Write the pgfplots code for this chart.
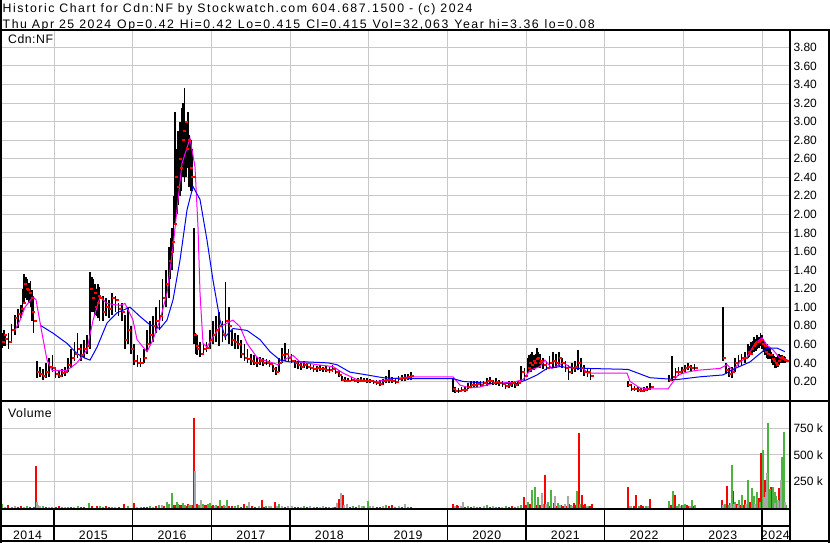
\documentclass[border=0pt]{standalone}
\usepackage{pgfplots}
\pgfplotsset{compat=1.18}
\usepackage{pgfplotstable}
\usepackage{fontspec}
\setmainfont{Liberation Sans}
\newfontfamily\hdrfont[LetterSpace=12.5]{Liberation Sans}
\newfontfamily\lblfont[LetterSpace=4]{Liberation Sans}
\definecolor{gridgray}{RGB}{200,200,200}
\definecolor{mag}{RGB}{255,0,255}
\definecolor{blu}{RGB}{0,0,255}
\definecolor{vgreen}{RGB}{76,178,64}
\definecolor{vgray}{RGB}{168,168,168}

\pgfplotstableread{
yr lo hi cl
2014.34 0.56 0.72 0.62
2014.36 0.58 0.75 0.70
2014.38 0.58 0.70 0.66
2014.42 0.55 0.72 0.62
2014.46 0.63 0.82 0.75
2014.50 0.70 0.92 0.88
2014.54 0.78 0.98 0.93
2014.58 0.88 1.02 0.98
2014.60 0.95 1.20 1.05
2014.62 1.05 1.36 1.25
2014.64 1.10 1.32 1.20
2014.66 1.08 1.30 1.18
2014.68 1.05 1.26 1.15
2014.70 1.00 1.28 1.10
2014.72 0.85 1.18 0.95
2014.74 0.72 1.12 0.85
2014.78 0.24 0.42 0.30
2014.82 0.25 0.36 0.28
2014.86 0.22 0.33 0.26
2014.90 0.24 0.40 0.30
2014.94 0.25 0.45 0.36
2014.98 0.30 0.48 0.34
2015.02 0.24 0.34 0.28
2015.06 0.24 0.32 0.26
2015.10 0.25 0.33 0.29
2015.14 0.26 0.36 0.30
2015.18 0.30 0.45 0.38
2015.22 0.35 0.55 0.45
2015.26 0.42 0.62 0.50
2015.30 0.45 0.72 0.55
2015.34 0.42 0.60 0.48
2015.38 0.45 0.65 0.55
2015.42 0.50 0.70 0.58
2015.46 0.55 1.38 1.20
2015.48 0.95 1.32 1.10
2015.50 0.95 1.30 1.15
2015.52 0.92 1.25 1.00
2015.54 0.90 1.20 1.05
2015.56 0.88 1.25 1.12
2015.58 0.85 1.22 1.10
2015.62 0.85 1.12 0.95
2015.66 0.90 1.10 1.00
2015.70 0.88 1.08 0.98
2015.74 0.92 1.15 1.10
2015.78 0.95 1.12 1.08
2015.82 0.90 1.05 0.98
2015.86 0.85 1.05 0.95
2015.90 0.55 0.92 0.65
2015.94 0.60 1.00 0.75
2015.98 0.50 0.80 0.55
2016.02 0.38 0.60 0.42
2016.06 0.36 0.48 0.40
2016.10 0.36 0.45 0.40
2016.14 0.40 0.55 0.45
2016.18 0.52 0.75 0.60
2016.22 0.60 0.85 0.70
2016.26 0.62 0.90 0.80
2016.30 0.72 1.00 0.85
2016.34 0.75 1.08 0.90
2016.38 0.85 1.30 1.10
2016.42 1.00 1.40 1.25
2016.46 1.10 1.65 1.50
2016.48 1.30 1.75 1.60
2016.50 1.40 1.85 1.70
2016.52 1.60 2.20 1.90
2016.54 1.90 3.10 2.40
2016.56 2.00 2.70 2.30
2016.58 2.10 2.90 2.60
2016.60 2.20 3.00 2.50
2016.62 2.25 3.15 2.80
2016.64 2.40 3.20 2.90
2016.66 2.35 3.36 3.00
2016.68 2.40 3.00 2.70
2016.70 2.50 3.10 2.80
2016.72 2.30 2.85 2.50
2016.74 2.25 2.80 2.40
2016.76 2.25 2.70 2.40
2016.78 0.60 1.85 0.70
2016.80 0.50 0.72 0.58
2016.82 0.48 0.70 0.55
2016.86 0.46 0.62 0.50
2016.90 0.50 0.60 0.55
2016.94 0.52 0.62 0.56
2016.98 0.55 0.75 0.65
2017.02 0.60 0.85 0.70
2017.06 0.62 0.90 0.75
2017.10 0.58 0.95 0.80
2017.14 0.62 0.85 0.70
2017.18 0.65 1.27 0.85
2017.22 0.60 1.00 0.80
2017.26 0.58 0.75 0.65
2017.30 0.55 0.72 0.62
2017.34 0.55 0.70 0.60
2017.38 0.45 0.65 0.50
2017.42 0.42 0.60 0.45
2017.46 0.40 0.55 0.44
2017.50 0.38 0.50 0.42
2017.54 0.38 0.48 0.40
2017.58 0.36 0.46 0.40
2017.62 0.38 0.46 0.42
2017.66 0.37 0.45 0.40
2017.70 0.38 0.44 0.40
2017.74 0.36 0.43 0.39
2017.78 0.30 0.38 0.33
2017.82 0.27 0.36 0.30
2017.86 0.30 0.45 0.40
2017.90 0.40 0.56 0.48
2017.94 0.42 0.61 0.50
2017.98 0.42 0.55 0.45
2018.02 0.40 0.50 0.42
2018.06 0.35 0.43 0.40
2018.10 0.33 0.42 0.38
2018.14 0.32 0.40 0.36
2018.18 0.34 0.42 0.38
2018.22 0.33 0.40 0.36
2018.26 0.32 0.39 0.35
2018.30 0.30 0.38 0.33
2018.34 0.30 0.37 0.34
2018.38 0.31 0.38 0.33
2018.42 0.30 0.36 0.33
2018.46 0.30 0.37 0.32
2018.50 0.29 0.36 0.32
2018.54 0.30 0.38 0.33
2018.58 0.28 0.35 0.30
2018.62 0.25 0.32 0.27
2018.66 0.20 0.26 0.22
2018.70 0.19 0.25 0.21
2018.74 0.19 0.24 0.21
2018.78 0.20 0.25 0.22
2018.82 0.19 0.24 0.21
2018.86 0.18 0.24 0.20
2018.90 0.19 0.25 0.21
2018.94 0.19 0.24 0.20
2018.98 0.18 0.24 0.20
2019.02 0.18 0.23 0.20
2019.06 0.17 0.22 0.19
2019.10 0.16 0.22 0.18
2019.14 0.15 0.22 0.17
2019.18 0.16 0.23 0.20
2019.22 0.18 0.26 0.22
2019.26 0.18 0.32 0.22
2019.30 0.18 0.25 0.20
2019.34 0.17 0.24 0.19
2019.38 0.20 0.26 0.23
2019.42 0.21 0.27 0.24
2019.46 0.21 0.28 0.24
2019.50 0.22 0.28 0.25
2019.54 0.22 0.30 0.26
2020.07 0.09 0.24 0.12
2020.10 0.08 0.14 0.10
2020.14 0.08 0.13 0.10
2020.18 0.09 0.14 0.11
2020.22 0.09 0.14 0.11
2020.26 0.12 0.18 0.14
2020.30 0.13 0.20 0.16
2020.34 0.13 0.21 0.16
2020.38 0.14 0.20 0.17
2020.42 0.14 0.21 0.16
2020.46 0.15 0.21 0.18
2020.50 0.15 0.24 0.20
2020.54 0.17 0.25 0.20
2020.58 0.16 0.22 0.18
2020.62 0.16 0.24 0.19
2020.66 0.15 0.22 0.18
2020.70 0.14 0.20 0.17
2020.74 0.12 0.19 0.15
2020.78 0.13 0.20 0.16
2020.82 0.14 0.21 0.18
2020.86 0.13 0.20 0.16
2020.90 0.15 0.21 0.18
2020.94 0.20 0.37 0.30
2020.98 0.22 0.35 0.26
2021.02 0.28 0.45 0.35
2021.04 0.30 0.48 0.40
2021.06 0.30 0.50 0.38
2021.08 0.33 0.52 0.42
2021.10 0.32 0.48 0.40
2021.12 0.34 0.50 0.44
2021.14 0.35 0.56 0.45
2021.16 0.36 0.52 0.40
2021.18 0.35 0.50 0.42
2021.22 0.33 0.45 0.38
2021.26 0.32 0.42 0.35
2021.30 0.33 0.47 0.40
2021.34 0.35 0.52 0.42
2021.38 0.35 0.50 0.40
2021.42 0.37 0.52 0.45
2021.46 0.35 0.45 0.40
2021.50 0.30 0.42 0.35
2021.54 0.22 0.38 0.30
2021.58 0.28 0.40 0.35
2021.62 0.30 0.42 0.36
2021.66 0.32 0.54 0.40
2021.70 0.30 0.45 0.35
2021.74 0.26 0.38 0.30
2021.78 0.25 0.35 0.30
2021.82 0.22 0.33 0.26
2022.30 0.14 0.20 0.16
2022.34 0.10 0.17 0.12
2022.38 0.10 0.15 0.12
2022.42 0.09 0.14 0.11
2022.46 0.09 0.13 0.10
2022.50 0.09 0.14 0.11
2022.54 0.10 0.15 0.12
2022.58 0.11 0.18 0.14
2022.82 0.19 0.27 0.22
2022.86 0.20 0.47 0.25
2022.90 0.24 0.34 0.30
2022.94 0.26 0.36 0.30
2022.98 0.28 0.36 0.32
2023.02 0.30 0.38 0.35
2023.06 0.32 0.40 0.36
2023.10 0.30 0.38 0.34
2023.14 0.32 0.39 0.35
2023.50 0.42 1.00 0.45
2023.54 0.28 0.40 0.32
2023.58 0.25 0.35 0.28
2023.62 0.24 0.36 0.30
2023.66 0.30 0.45 0.40
2023.70 0.36 0.48 0.42
2023.74 0.38 0.50 0.45
2023.78 0.40 0.52 0.45
2023.82 0.45 0.60 0.52
2023.84 0.46 0.58 0.50
2023.86 0.48 0.62 0.55
2023.88 0.50 0.64 0.58
2023.90 0.52 0.68 0.60
2023.92 0.53 0.66 0.62
2023.94 0.55 0.70 0.62
2023.96 0.56 0.68 0.64
2023.98 0.58 0.72 0.65
2024.00 0.55 0.70 0.60
2024.02 0.52 0.66 0.58
2024.04 0.48 0.62 0.52
2024.06 0.45 0.60 0.50
2024.08 0.44 0.58 0.48
2024.10 0.44 0.56 0.48
2024.12 0.40 0.52 0.44
2024.14 0.38 0.50 0.42
2024.16 0.35 0.47 0.40
2024.18 0.34 0.46 0.38
2024.20 0.36 0.48 0.42
2024.22 0.38 0.50 0.45
2024.24 0.40 0.49 0.46
2024.26 0.40 0.48 0.44
2024.28 0.40 0.47 0.43
2024.30 0.40 0.46 0.415
}\bars

\pgfplotstableread{
yr ma
2014.504 0.75
2014.568 0.86
2014.631 1.00
2014.733 1.11
2014.771 1.08
2014.847 0.72
2014.911 0.43
2014.975 0.32
2015.165 0.32
2015.292 0.40
2015.419 0.54
2015.496 0.86
2015.585 1.11
2015.674 1.04
2015.839 1.02
2015.903 1.04
2016.004 0.86
2016.055 0.65
2016.182 0.52
2016.258 0.65
2016.347 0.86
2016.436 1.15
2016.513 1.65
2016.563 2.05
2016.627 2.55
2016.729 2.82
2016.792 2.51
2016.830 1.87
2016.856 1.15
2016.894 0.61
2016.945 0.57
2017.021 0.68
2017.110 0.79
2017.275 0.86
2017.364 0.79
2017.453 0.61
2017.580 0.46
2017.619 0.44
2017.746 0.41
2017.847 0.38
2017.936 0.44
2018.038 0.48
2018.127 0.41
2018.343 0.38
2018.547 0.36
2018.674 0.29
2018.852 0.22
2019.106 0.20
2019.309 0.23
2019.525 0.25
2020.072 0.25
2020.161 0.16
2020.288 0.13
2020.415 0.14
2020.580 0.18
2020.835 0.19
2020.962 0.22
2021.051 0.32
2021.178 0.36
2021.241 0.43
2021.330 0.34
2021.470 0.40
2021.597 0.34
2021.724 0.34
2021.788 0.29
2022.284 0.29
2022.322 0.20
2022.449 0.13
2022.576 0.12
2022.805 0.12
2022.856 0.18
2022.932 0.27
2023.046 0.30
2023.173 0.32
2023.466 0.34
2023.555 0.38
2023.631 0.32
2023.720 0.41
2023.809 0.46
2023.911 0.61
2024.000 0.67
2024.063 0.59
2024.140 0.54
2024.229 0.45
2024.330 0.43
}\magma

\pgfplotstableread{
yr ma
2014.835 0.80
2014.987 0.72
2015.165 0.61
2015.292 0.50
2015.394 0.45
2015.458 0.43
2015.547 0.57
2015.674 0.83
2015.801 0.94
2015.966 1.00
2016.093 0.90
2016.220 0.81
2016.347 0.77
2016.436 0.86
2016.513 1.08
2016.602 1.51
2016.691 2.05
2016.767 2.30
2016.856 2.16
2016.945 1.72
2017.021 1.29
2017.110 0.86
2017.174 0.68
2017.275 0.77
2017.453 0.75
2017.619 0.65
2017.746 0.52
2017.873 0.43
2018.000 0.41
2018.216 0.41
2018.483 0.40
2018.597 0.38
2018.763 0.30
2018.979 0.27
2019.182 0.24
2019.398 0.23
2020.072 0.23
2020.199 0.20
2020.504 0.18
2020.886 0.18
2021.013 0.22
2021.140 0.27
2021.267 0.34
2021.432 0.36
2021.648 0.34
2021.775 0.34
2022.296 0.33
2022.576 0.24
2022.919 0.22
2023.212 0.25
2023.504 0.27
2023.631 0.33
2023.847 0.41
2023.974 0.50
2024.063 0.56
2024.190 0.56
2024.292 0.52
}\bluma

% volume in thousands: red, green, gray
\pgfplotstableread{
yr r g n
2014.34 0 35 0
2014.38 0 0 10
2014.42 25 0 0
2014.46 0 12 0
2014.50 0 0 15
2014.54 10 0 0
2014.58 20 0 0
2014.62 0 0 8
2014.66 0 15 0
2014.70 8 0 0
2014.74 12 0 0
2014.77 396 0 0
2014.785 0 0 57
2014.80 0 0 30
2014.82 0 0 20
2014.86 0 18 0
2014.90 10 0 0
2014.94 0 0 12
2014.98 0 12 0
2015.02 10 0 0
2015.06 15 0 0
2015.10 0 8 0
2015.14 0 0 10
2015.18 0 10 0
2015.22 8 0 0
2015.26 0 0 8
2015.30 0 20 0
2015.34 10 0 0
2015.38 12 0 0
2015.44 0 45 0
2015.48 15 0 0
2015.54 18 0 0
2015.58 0 15 0
2015.62 0 12 0
2015.66 15 0 0
2015.70 10 0 0
2015.74 0 10 0
2015.78 0 0 10
2015.82 12 0 0
2015.89 40 0 0
2015.94 0 15 0
2016.02 45 0 0
2016.06 0 0 8
2016.10 0 10 0
2016.14 10 0 0
2016.18 8 0 0
2016.22 0 15 0
2016.26 0 0 12
2016.30 15 0 0
2016.34 0 25 0
2016.37 0 0 25
2016.40 20 0 0
2016.43 0 60 0
2016.46 0 35 0
2016.50 0 140 0
2016.52 25 0 0
2016.54 30 0 0
2016.56 0 55 0
2016.58 0 40 0
2016.60 30 0 0
2016.62 25 0 0
2016.64 0 45 0
2016.66 0 30 0
2016.68 20 0 0
2016.70 35 0 0
2016.72 0 30 0
2016.74 0 25 0
2016.76 25 0 0
2016.78 850 0 0
2016.795 0 0 350
2016.82 40 0 0
2016.84 0 30 0
2016.87 0 0 80
2016.90 0 40 0
2016.92 25 0 0
2016.94 30 0 0
2016.96 0 35 0
2016.98 0 50 0
2017.00 20 0 0
2017.02 25 0 0
2017.04 0 0 20
2017.06 0 30 0
2017.08 20 0 0
2017.11 0 80 0
2017.14 20 0 0
2017.16 0 25 0
2017.18 0 0 20
2017.20 0 80 0
2017.23 15 0 0
2017.26 15 0 0
2017.30 0 15 0
2017.34 0 25 0
2017.38 10 0 0
2017.42 40 0 0
2017.45 0 20 0
2017.48 0 0 60
2017.52 15 0 0
2017.56 10 0 0
2017.60 0 0 20
2017.64 80 0 0
2017.67 12 0 0
2017.70 0 20 0
2017.73 0 0 15
2017.76 0 0 15
2017.81 60 0 0
2017.83 0 0 20
2017.86 0 35 0
2017.90 0 0 15
2017.94 12 0 0
2017.98 0 0 20
2018.02 0 0 20
2018.06 10 0 0
2018.10 10 0 0
2018.14 0 0 10
2018.18 0 15 0
2018.22 10 0 0
2018.26 0 0 15
2018.30 0 10 0
2018.34 12 0 0
2018.38 0 0 10
2018.42 0 0 20
2018.46 10 0 0
2018.50 0 10 0
2018.54 0 0 12
2018.57 10 0 0
2018.60 0 0 50
2018.62 85 0 0
2018.65 0 0 140
2018.67 120 0 0
2018.69 0 0 30
2018.72 0 0 40
2018.76 10 0 0
2018.80 0 15 0
2018.84 10 0 0
2018.88 0 0 30
2018.91 0 0 15
2018.94 0 20 0
2018.99 0 70 0
2019.02 0 0 15
2019.06 0 0 20
2019.10 10 0 0
2019.14 12 0 0
2019.18 0 0 20
2019.22 0 30 0
2019.26 15 0 0
2019.30 30 0 0
2019.34 0 10 0
2019.38 0 0 15
2019.42 10 0 0
2019.46 0 0 35
2019.50 0 10 0
2019.54 10 0 0
2020.07 40 0 0
2020.10 0 0 20
2020.12 25 0 0
2020.14 15 0 0
2020.17 0 0 15
2020.20 0 0 60
2020.23 10 0 0
2020.26 0 15 0
2020.30 8 0 0
2020.34 0 0 20
2020.38 0 10 0
2020.42 10 0 0
2020.46 0 0 15
2020.50 0 25 0
2020.54 10 0 0
2020.58 0 0 20
2020.62 0 10 0
2020.66 8 0 0
2020.70 0 0 10
2020.74 0 15 0
2020.78 10 0 0
2020.82 20 0 0
2020.86 0 10 0
2020.90 0 0 15
2020.93 0 25 0
2020.97 100 0 0
2021.00 30 0 0
2021.02 0 60 0
2021.05 40 0 0
2021.08 0 170 0
2021.11 0 200 0
2021.13 30 0 0
2021.15 0 100 0
2021.18 30 0 0
2021.20 0 0 140
2021.22 0 40 0
2021.24 310 0 0
2021.26 0 0 40
2021.28 0 60 0
2021.30 20 0 0
2021.32 0 170 0
2021.35 50 0 0
2021.37 0 0 110
2021.39 20 0 0
2021.41 0 50 0
2021.43 0 0 30
2021.45 30 0 0
2021.47 20 0 0
2021.49 0 0 40
2021.51 20 0 0
2021.53 0 0 110
2021.55 40 0 0
2021.57 0 30 0
2021.59 0 0 20
2021.61 50 0 0
2021.63 30 0 0
2021.65 0 165 0
2021.67 705 0 0
2021.69 0 40 0
2021.71 125 0 0
2021.73 30 0 0
2021.75 40 0 0
2021.77 0 0 15
2021.79 0 20 0
2021.81 15 0 0
2021.84 40 0 0
2022.30 195 0 0
2022.32 0 0 15
2022.34 0 0 20
2022.37 20 0 0
2022.40 125 0 0
2022.43 0 15 0
2022.46 30 0 0
2022.49 20 0 0
2022.52 0 20 0
2022.55 0 0 15
2022.58 85 0 0
2022.82 0 70 0
2022.84 25 0 0
2022.87 0 160 0
2022.89 125 0 0
2022.92 0 20 0
2022.94 0 40 0
2022.96 0 0 15
2022.98 30 0 0
2023.00 0 25 0
2023.02 0 40 0
2023.04 25 0 0
2023.06 20 0 0
2023.08 0 0 20
2023.11 0 75 0
2023.13 20 0 0
2023.15 0 30 0
2023.49 80 0 0
2023.51 0 0 30
2023.53 0 40 0
2023.56 210 0 0
2023.58 0 30 0
2023.59 50 0 0
2023.61 0 0 50
2023.62 0 405 0
2023.635 165 0 0
2023.65 0 0 40
2023.66 0 60 0
2023.68 40 0 0
2023.70 0 0 30
2023.71 0 80 0
2023.73 30 0 0
2023.74 0 120 0
2023.76 30 0 0
2023.78 80 0 0
2023.80 0 0 40
2023.82 0 265 0
2023.835 30 0 0
2023.85 60 0 0
2023.87 0 185 0
2023.885 40 0 0
2023.90 0 110 0
2023.915 0 0 40
2023.93 0 150 0
2023.96 90 0 0
2023.975 0 60 0
2023.99 520 0 0
2024.01 0 545 0
2024.02 0 0 100
2024.035 265 0 0
2024.05 0 0 150
2024.06 0 0 330
2024.07 120 0 0
2024.08 0 800 0
2024.09 60 0 0
2024.10 0 180 0
2024.11 200 0 0
2024.125 100 0 0
2024.14 0 200 0
2024.15 60 0 0
2024.16 0 150 0
2024.17 0 0 50
2024.18 0 110 0
2024.19 60 0 0
2024.20 0 0 80
2024.21 185 0 0
2024.22 0 70 0
2024.23 130 0 0
2024.24 0 0 265
2024.255 0 480 0
2024.265 40 0 0
2024.27 0 330 0
2024.28 0 720 0
2024.29 0 0 60
2024.30 0 30 0
}\vol

\begin{document}
\begin{tikzpicture}[x=1pt,y=1pt,font=\fontsize{12}{14}\selectfont]
\useasboundingbox (0,0) rectangle (830,543);
\fill[white] (0,0) rectangle (830,543);

% ---------- price panel ----------
\begin{axis}[
  at={(1pt,143pt)}, anchor=south west, scale only axis,
  width=788pt, height=369pt,
  xmin=2014.326, xmax=2024.343, ymin=0, ymax=3.976,
  axis line style={draw=none}, major tick length=0pt,
  xtick={2015,2016,2017,2018,2019,2020,2021,2022,2023,2024}, xticklabels={},
  ytick={0.2,0.4,0.6,0.8,1.0,1.2,1.4,1.6,1.8,2.0,2.2,2.4,2.6,2.8,3.0,3.2,3.4,3.6,3.8},
  yticklabel pos=right,
  /pgf/number format/assume math mode=true,
  yticklabel style={font=\fontsize{12}{14}\selectfont, /pgf/number format/fixed, /pgf/number format/fixed zerofill, /pgf/number format/precision=2, xshift=1pt},
  grid=major, major grid style={draw=gridgray, line width=1pt},
]
\addplot[draw=none, mark=none, forget plot,
  error bars/.cd, y dir=plus, y explicit, error mark=none,
  error bar style={draw=black, line width=1.7pt}]
  table[x=yr, y=lo, y error plus expr=\thisrow{hi}-\thisrow{lo}] {\bars};
\addplot[only marks, mark=-, mark size=1.5pt, color=red,
  mark options={line width=2pt, xshift=1.7pt}]
  table[x=yr, y=cl] {\bars};
\addplot[mag, line width=1pt] table[x=yr, y=ma] {\magma};
\addplot[blu, line width=1pt] table[x=yr, y=ma] {\bluma};
\end{axis}

% ---------- volume panel ----------
\begin{axis}[
  at={(1pt,35pt)}, anchor=south west, scale only axis,
  width=788pt, height=106pt,
  xmin=2014.326, xmax=2024.343, ymin=0, ymax=1000,
  axis line style={draw=none}, major tick length=0pt,
  xtick={2015,2016,2017,2018,2019,2020,2021,2022,2023,2024}, xticklabels={},
  ytick={250,500,750}, yticklabels={250 k,500 k,750 k},
  yticklabel pos=right,
  yticklabel style={font=\fontsize{12}{14}\selectfont, xshift=1pt},
  grid=major, major grid style={draw=gridgray, line width=1pt},
  clip=false,
]
\addplot[ycomb, draw=red, line width=2pt, mark=none] table[x=yr, y=r] {\vol};
\addplot[ycomb, draw=vgreen, line width=2pt, mark=none] table[x=yr, y=g] {\vol};
\addplot[ycomb, draw=vgray, line width=2pt, mark=none] table[x=yr, y=n] {\vol};
\pgfplotsinvokeforeach{2015,2016,2017,2018,2019,2020,2021,2022,2023,2024}{
  \coordinate (Y#1) at (axis cs:#1,0);
}
\coordinate (L2014) at (axis cs:2014.663,0);
\coordinate (L2015) at (axis cs:2015.5,0);
\coordinate (L2016) at (axis cs:2016.5,0);
\coordinate (L2017) at (axis cs:2017.5,0);
\coordinate (L2018) at (axis cs:2018.5,0);
\coordinate (L2019) at (axis cs:2019.5,0);
\coordinate (L2020) at (axis cs:2020.5,0);
\coordinate (L2021) at (axis cs:2021.5,0);
\coordinate (L2022) at (axis cs:2022.5,0);
\coordinate (L2023) at (axis cs:2023.5,0);
\coordinate (L2024) at (axis cs:2024.17,0);
\end{axis}

% ---------- header ----------
\node[anchor=base west, inner sep=0, font=\hdrfont\fontsize{12.3}{14}\selectfont] at (2.5,530.3) {Historic Chart for Cdn:NF by Stockwatch.com 604.687.1500 - (c) 2024};
\node[anchor=base west, inner sep=0, font=\hdrfont\fontsize{12.3}{14}\selectfont] at (2.5,514.7) {Thu Apr 25 2024\hspace{6pt}Op=0.42\hspace{6pt}Hi=0.42\hspace{6pt}Lo=0.415\hspace{6pt}Cl=0.415\hspace{6pt}Vol=32,063\hspace{6pt}Year hi=3.36\hspace{6pt}lo=0.08};
\node[anchor=base west, inner sep=0, font=\lblfont\fontsize{12.3}{14}\selectfont] at (8,499) {Cdn:NF};
\node[anchor=base west, inner sep=0, font=\lblfont\fontsize{12.3}{14}\selectfont] at (8,125) {Volume};

% ---------- bottom strips ----------
\foreach \y in {2015,2016,2017,2018,2019,2020,2021,2022,2023,2024} {
  \draw[black, line width=1.6pt] (Y\y) ++(0,-1) -- ++(0,-32.5);
}
\foreach \y in {2014,2015,2016,2017,2018,2019,2020,2021,2022,2023,2024} {
  \path (L\y) ++(0,-31.3) node[anchor=base, inner sep=0, font=\lblfont\fontsize{12.3}{14}\selectfont] {\y};
}

% ---------- frame lines ----------
\draw[black, line width=2pt] (0,513) -- (830,513);
\draw[black, line width=2pt] (0,141.5) -- (830,141.5);
\draw[black, line width=2pt] (0,34) -- (790,34);
\draw[black, line width=2pt] (0,17) -- (790,17);
\draw[black, line width=2pt] (0,1.5) -- (830,1.5);
\draw[black, line width=2pt] (789.8,0.5) -- (789.8,513);
\draw[black, line width=2pt] (1,0) -- (1,543);
\draw[black, line width=2pt] (829,0) -- (829,513);
\end{tikzpicture}
\end{document}
